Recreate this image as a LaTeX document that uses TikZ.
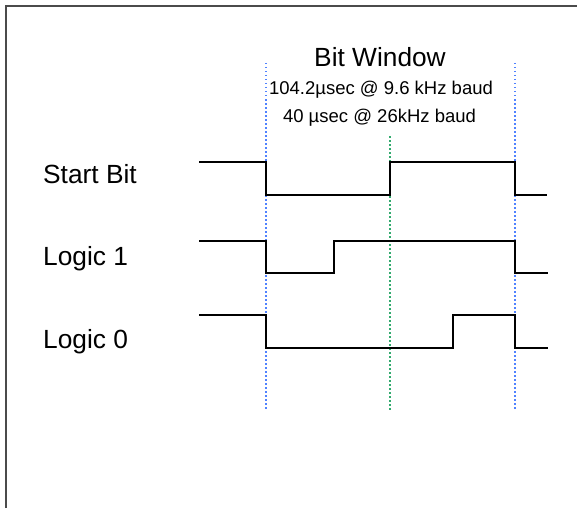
\documentclass[tikz,border=0pt]{standalone}
\usepackage{fontspec}
\setmainfont{Liberation Sans}
\definecolor{gridblue}{RGB}{80,130,255}
\definecolor{gridgreen}{RGB}{50,170,110}
\definecolor{framegray}{RGB}{75,75,75}
\tikzset{
  wave/.style={line width=1.7pt, black, line join=miter},
  bluegrid/.style={gridblue, line width=1.5pt, dash pattern=on 1.5pt off 2.5pt},
  greengrid/.style={gridgreen, line width=1.5pt, dash pattern=on 1.5pt off 2.5pt},
  bigtext/.style={font=\fontsize{26.3}{30}\selectfont, inner sep=0pt},
  smalltext/.style={font=\fontsize{18.5}{22}\selectfont, inner sep=0pt},
  frameline/.style={framegray, line width=2.5pt}
}
\begin{document}
\begin{tikzpicture}[x=1pt,y=-1pt]
\useasboundingbox (0,0) rectangle (577,508);
\fill[white] (0,0) rectangle (577,508);
% frame
\draw[frameline] (6,508) -- (6,6) -- (577,6);
% grid lines
\draw[bluegrid] (266,63) -- (266,411);
\draw[bluegrid] (515,63) -- (515,411);
\draw[greengrid] (390,136) -- (390,411);
% waveforms
\draw[wave] (199,162) -- (266,162) -- (266,195) -- (390,195) -- (390,162) -- (515,162) -- (515,195) -- (547,195);
\draw[wave] (199,241) -- (266,241) -- (266,273) -- (334,273) -- (334,241) -- (515,241) -- (515,273) -- (548,273);
\draw[wave] (199,315) -- (266,315) -- (266,348) -- (453,348) -- (453,315) -- (515,315) -- (515,348) -- (548,348);
% texts
\node[bigtext, anchor=base] (title) at (380,67) {Bit Window};
\node[smalltext, anchor=base] (t1) at (381,95) {104.2µsec @ 9.6 kHz baud};
\node[smalltext, anchor=base] (t2) at (379.5,122) {40 µsec @ 26kHz baud};
\node[bigtext, anchor=base west] (start) at (43,183) {Start Bit};
\node[bigtext, anchor=base west] (one) at (43,265) {Logic 1};
\node[bigtext, anchor=base west] (zero) at (43,348) {Logic 0};
\end{tikzpicture}
\end{document}
